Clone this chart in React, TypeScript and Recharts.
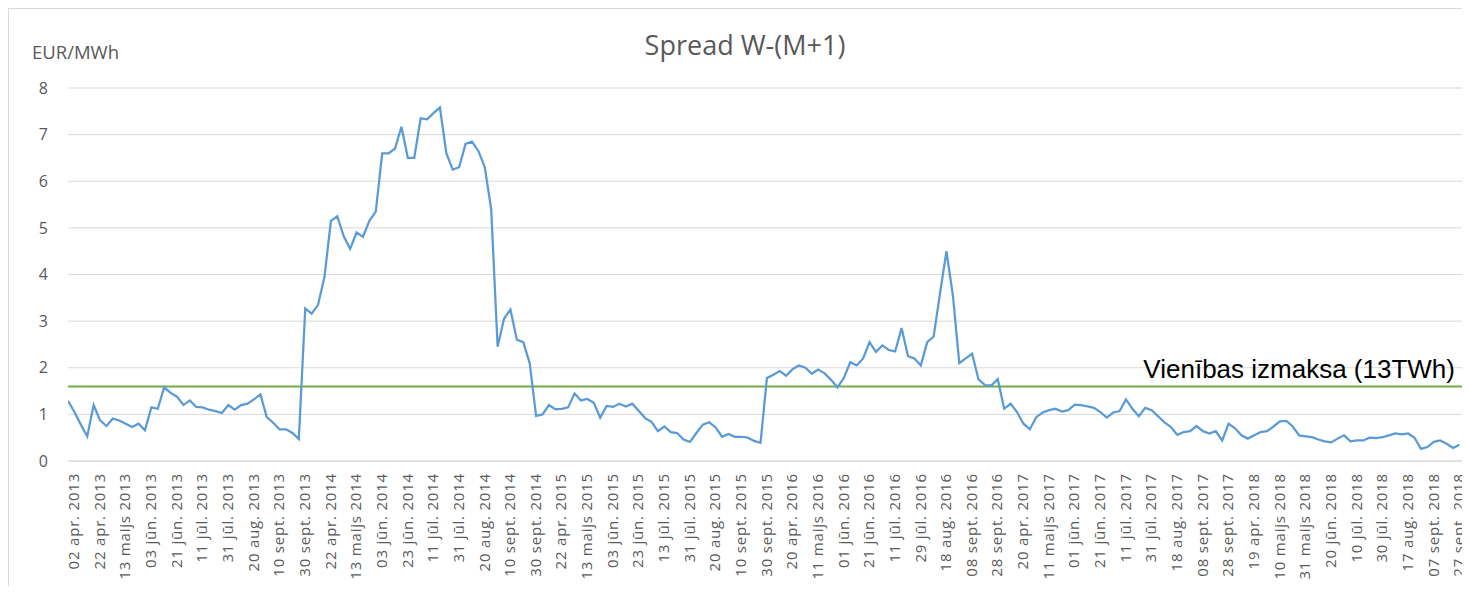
import React from "react";
import { LineChart, Line, XAxis, YAxis, CartesianGrid, ReferenceLine } from "recharts";

// date labels under the x axis, one per tick
const tickLabels = [
  "02 apr. 2013", "22 apr. 2013", "13 maijs 2013", "03 jūn. 2013", "21 jūn. 2013",
  "11 jūl. 2013", "31 jūl. 2013", "20 aug. 2013", "10 sept. 2013", "30 sept. 2013",
  "22 apr. 2014", "13 maijs 2014", "03 jūn. 2014", "23 jūn. 2014", "11 jūl. 2014",
  "31 jūl. 2014", "20 aug. 2014", "10 sept. 2014", "30 sept. 2014",
  "22 apr. 2015", "13 maijs 2015", "03 jūn. 2015", "23 jūn. 2015", "13 jūl. 2015",
  "31 jūl. 2015", "20 aug. 2015", "10 sept. 2015", "30 sept. 2015",
  "20 apr. 2016", "11 maijs 2016", "01 jūn. 2016", "21 jūn. 2016", "11 jūl. 2016",
  "29 jūl. 2016", "18 aug. 2016", "08 sept. 2016", "28 sept. 2016",
  "20 apr. 2017", "11 maijs 2017", "01 jūn. 2017", "21 jūn. 2017", "11 jūl. 2017",
  "31 jūl. 2017", "18 aug. 2017", "08 sept. 2017", "28 sept. 2017",
  "19 apr. 2018", "10 maijs 2018", "31 maijs 2018", "20 jūn. 2018", "10 jūl. 2018",
  "30 jūl. 2018", "17 aug. 2018", "07 sept. 2018", "27 sept. 2018",
];

// spread W-(M+1), EUR/MWh, read every quarter of a label step
const s2013 = [
  1.29, 1.05, 0.78, 0.53, 1.2, 0.87, 0.75, 0.91, 0.87, 0.8, 0.73, 0.8, 0.66,
  1.15, 1.12, 1.58, 1.46, 1.38, 1.2, 1.3, 1.16, 1.15, 1.1, 1.07, 1.03, 1.2,
  1.1, 1.2, 1.23, 1.32, 1.43, 0.94, 0.82, 0.68, 0.68, 0.6, 0.47,
];
const s2014 = [
  3.27, 3.16, 3.35, 3.95, 5.15, 5.25, 4.82, 4.55, 4.9, 4.81, 5.15, 5.35,
  6.6, 6.6, 6.7, 7.17, 6.5, 6.5, 7.35, 7.33, 7.46, 7.58, 6.6, 6.25, 6.3,
  6.8, 6.85, 6.65, 6.3, 5.4, 2.45, 3.05, 3.25, 2.6, 2.55, 2.1,
];
const s2015 = [
  0.97, 1.0, 1.2, 1.11, 1.12, 1.15, 1.45, 1.3, 1.33, 1.25, 0.93, 1.18,
  1.16, 1.23, 1.17, 1.23, 1.08, 0.92, 0.84, 0.64, 0.74, 0.62, 0.6, 0.46,
  0.41, 0.6, 0.78, 0.83, 0.72, 0.52, 0.58, 0.52, 0.52, 0.5, 0.43, 0.39,
];
const s2016 = [
  1.78, 1.85, 1.93, 1.83, 1.97, 2.05, 2.0, 1.87, 1.96, 1.88, 1.74, 1.58,
  1.78, 2.12, 2.05, 2.2, 2.55, 2.34, 2.48, 2.38, 2.35, 2.85, 2.25, 2.2,
  2.05, 2.55, 2.67, 3.6, 4.5, 3.55, 2.1, 2.2, 2.3, 1.75, 1.63, 1.62, 1.76,
];
const s2017 = [
  1.12, 1.23, 1.05, 0.8, 0.68, 0.94, 1.04, 1.09, 1.12, 1.06, 1.09, 1.21,
  1.2, 1.17, 1.14, 1.05, 0.93, 1.04, 1.07, 1.32, 1.12, 0.96, 1.14, 1.09,
  0.96, 0.83, 0.73, 0.56, 0.62, 0.64, 0.75, 0.64, 0.59, 0.64, 0.44,
];
const s2018 = [
  0.8, 0.7, 0.55, 0.48, 0.55, 0.62, 0.64, 0.74, 0.85, 0.86, 0.74, 0.55,
  0.53, 0.51, 0.46, 0.42, 0.4, 0.48, 0.55, 0.42, 0.44, 0.44, 0.5, 0.49,
  0.51, 0.55, 0.59, 0.57, 0.59, 0.5, 0.26, 0.3, 0.41, 0.44, 0.37, 0.28, 0.35,
];

const threshold = 1.6;
const thresholdLabel = "Vienības izmaksa (13TWh)";
const yTicks = [0, 1, 2, 3, 4, 5, 6, 7, 8];

const START = -0.2;
const STEP = 0.25;
const spread = [...s2013, ...s2014, ...s2015, ...s2016, ...s2017, ...s2018];
const data = spread.map((value, i) => ({ pos: START + i * STEP, value }));
const xTicks = tickLabels.map((_, i) => i);

const FONT = '"Open Sans", sans-serif';
const GREY = "#595959";

function DateTick(props: any) {
  const { x, y, payload } = props;
  return (
    <text
      x={x}
      y={y}
      transform={`rotate(-90 ${x} ${y})`}
      textAnchor="end"
      dominantBaseline="central"
      fill={GREY}
      fontFamily={FONT}
      fontSize={15}
      letterSpacing={0.8}
    >
      {tickLabels[payload.value]}
    </text>
  );
}

function ThresholdLabel(props: any) {
  const { x, y, width } = props.viewBox;
  return (
    <text
      x={x + width - 7}
      y={y - 8}
      textAnchor="end"
      fontFamily='"Liberation Sans", Arial, sans-serif'
      fontSize={26}
      fill="#000"
    >
      {thresholdLabel}
    </text>
  );
}

export default function App() {
  return (
    <>
      <style>{"html, body { overflow: hidden; }"}</style>
      <div
        style={{
          position: "relative",
          width: 1461,
          height: 578,
          border: "1px solid #d9d9d9",
          borderBottom: "none",
          boxSizing: "border-box",
          background: "#fff",
        }}
      >
        <svg
          width={1459}
          height={90}
          style={{ position: "absolute", left: 0, top: 0, pointerEvents: "none" }}
        >
          <text x={736} y={46} textAnchor="middle" fontFamily={FONT} fontSize={27} fill={GREY}>
            Spread W-(M+1)
          </text>
          <text x={23} y={50} fontFamily={FONT} fontSize={18.5} fill={GREY}>
            EUR/MWh
          </text>
        </svg>
        <LineChart
          width={1459}
          height={577}
          data={data}
          margin={{ top: 79, right: 6, bottom: 5, left: 0 }}
          style={{ overflow: "visible" }}
        >
          <CartesianGrid vertical={false} stroke="#d9d9d9" />
          <XAxis
            dataKey="pos"
            type="number"
            domain={[-0.2, 54.15]}
            ticks={xTicks}
            interval={0}
            allowDataOverflow
            tickLine={false}
            tickSize={0}
            tickMargin={12}
            axisLine={{ stroke: "#d9d9d9" }}
            height={120}
            tick={<DateTick />}
          />
          <YAxis
            domain={[0, 8]}
            ticks={yTicks}
            width={59}
            axisLine={false}
            tickLine={false}
            tickSize={0}
            tickMargin={20}
            tick={{ fill: GREY, fontSize: 16, fontFamily: FONT }}
          />
          <ReferenceLine
            y={threshold}
            stroke="#70ad47"
            strokeWidth={2}
            label={<ThresholdLabel />}
          />
          <Line
            type="linear"
            dataKey="value"
            stroke="#5b9bd5"
            strokeWidth={2.25}
            dot={false}
            isAnimationActive={false}
          />
        </LineChart>
      </div>
    </>
  );
}
